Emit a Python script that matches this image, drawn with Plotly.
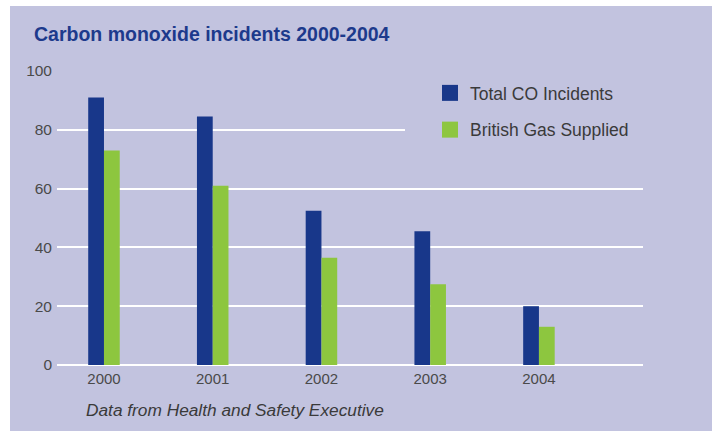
import plotly.graph_objects as go

years = ["2000", "2001", "2002", "2003", "2004"]
total_co = [91, 84.5, 52.5, 45.5, 20]
british_gas = [73, 61, 36.5, 27.5, 13]
series_names = ["Total CO Incidents", "British Gas Supplied"]
y_ticks = [0, 20, 40, 60, 80, 100]

BLUE = "#18378a"
GREEN = "#8dc63f"
LAV = "#c2c3df"
TXT = "#4a4a4a"
FONT = "Liberation Sans"

fig = go.Figure()
fig.add_trace(go.Bar(x=years, y=total_co, name=series_names[0], marker_color=BLUE,
                     marker_line_width=0, showlegend=False))
fig.add_trace(go.Bar(x=years, y=british_gas, name=series_names[1], marker_color=GREEN,
                     marker_line_width=0, showlegend=False))
# legend entries with larger square swatches (trailing nbsp widens the legend box)
for nm, col, grp in [(series_names[0], BLUE, "a"), (series_names[1] + "\u00a0\u00a0", GREEN, "b")]:
    fig.add_trace(go.Scatter(x=[None], y=[None], mode="markers", name=nm,
                             legendgroup=grp,
                             marker=dict(symbol="square", size=16, color=col, line_width=0)))

fig.update_layout(
    width=717, height=431,
    margin=dict(l=57, r=74, t=71, b=66),
    paper_bgcolor="white",
    plot_bgcolor=LAV,
    barmode="group",
    bargap=0.71,
    bargroupgap=0,
    font=dict(family=FONT, color=TXT),
    title=dict(text="Carbon monoxide incidents 2000-2004", xref="container", yref="container",
               x=34/717, xanchor="left", y=1-34/431, yanchor="middle",
               font=dict(family=FONT, size=19.5, color="#1d3a8c", weight="bold")),
    xaxis=dict(range=[-0.432, 4.957], showgrid=False, zeroline=False, showline=False,
               tickfont=dict(size=15, color=TXT), ticks="", ticklabelstandoff=3),
    yaxis=dict(range=[0, 100], tickvals=y_ticks, showgrid=True, gridcolor="white", gridwidth=2,
               zeroline=True, zerolinecolor="white", zerolinewidth=2, showline=False,
               tickfont=dict(size=15.5, color=TXT), ticks="", ticklabelstandoff=4),
    legend=dict(x=(405-57)/586, xanchor="left", y=(365-75)/294, yanchor="top",
                bgcolor=LAV, font=dict(size=17.5, color="#3a3a3a"),
                indentation=25, tracegroupgap=11),
    shapes=[dict(type="rect", xref="paper", yref="paper", layer="below",
                 x0=(10-57)/586, x1=(712-57)/586, y0=(365-431)/294, y1=(365-6)/294,
                 fillcolor=LAV, line_width=0)],
    annotations=[dict(text="Data from Health and Safety Executive", xref="paper", yref="paper",
                      x=(84-57)/586, xanchor="left", y=(365-410)/294, yanchor="middle",
                      showarrow=False,
                      font=dict(family=FONT, size=17.3, color="#3a3a3a", style="italic"))],
)

fig.write_html("out.html")
